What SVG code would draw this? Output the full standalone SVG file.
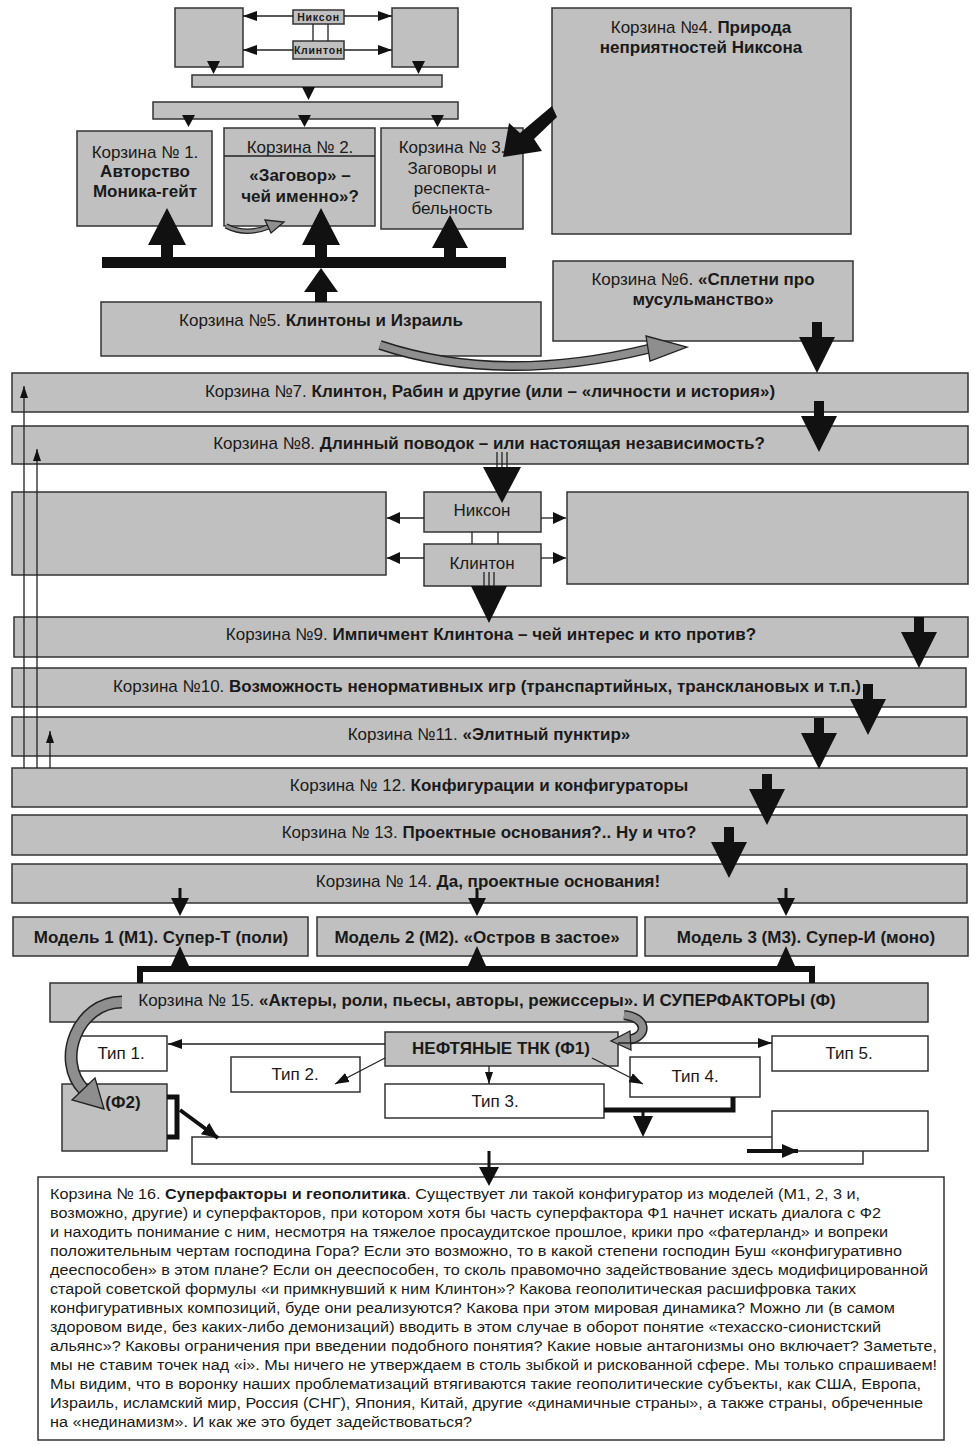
<svg xmlns="http://www.w3.org/2000/svg" width="978" height="1447" viewBox="0 0 978 1447">
<style>
.box{fill:#c0c0c0;stroke:#333;stroke-width:1.5}
.wb{fill:#fff;stroke:#333;stroke-width:1.5}
.ln{stroke:#222;stroke-width:1.3;fill:none}
.thk{stroke:#111;stroke-width:5;fill:none}
.blk{fill:#111}
text{font-family:"Liberation Sans",Arial,sans-serif;fill:#1a1a1a}
.t{font-size:17px;text-anchor:middle}
.m{font-size:17px;text-anchor:middle;font-weight:bold}
.b{font-weight:bold}
.p{font-size:15.5px}
.sm{font-size:10.5px;font-weight:bold;letter-spacing:0.8px;text-anchor:middle}
.go{stroke:#222;fill:none}
.gi{stroke:#8e8e8e;fill:none}
.gh{fill:#8e8e8e;stroke:#222;stroke-width:1.3}
</style>
<defs>
<marker id="ah" markerUnits="userSpaceOnUse" viewBox="0 0 14 10" refX="14" refY="5" markerWidth="14" markerHeight="10" orient="auto"><path d="M0 0L14 5L0 10Z" fill="#111"/></marker>
<marker id="am" markerUnits="userSpaceOnUse" viewBox="0 0 13 12" refX="13" refY="6" markerWidth="13" markerHeight="12" orient="auto"><path d="M0 0L13 6L0 12Z" fill="#111"/></marker>
<marker id="au" markerUnits="userSpaceOnUse" viewBox="0 0 12 8" refX="12" refY="4" markerWidth="12" markerHeight="8" orient="auto"><path d="M0 0L12 4L0 8Z" fill="#111"/></marker>
<marker id="as" markerUnits="userSpaceOnUse" viewBox="0 0 16 14" refX="16" refY="7" markerWidth="16" markerHeight="14" orient="auto"><path d="M0 0L16 7L0 14Z" fill="#111"/></marker>
<path id="bd" d="M-5 0H5V15H18L0 51L-18 15H-5Z"/>
<path id="sd" d="M-1.5 0H1.5V10H9L0 28L-9 10H-1.5Z"/>
<path id="su" d="M-9 0L0 -20L9 0Z"/>
</defs>

<g id="top-left-box"><rect class="box" x="175" y="8" width="68" height="59"/></g>
<g id="top-right-box"><rect class="box" x="392" y="8" width="66" height="59"/></g>
<g id="top-nixon"><rect class="box" x="293" y="10" width="51" height="14"/><text class="sm" x="318.5" y="21">Никсон</text></g>
<g id="top-clinton"><rect class="box" x="293" y="41" width="51" height="18"/><text class="sm" x="318.5" y="54">Клинтон</text></g>
<g id="top-bar1"><rect class="box" x="192" y="75" width="250" height="12"/></g>
<g id="top-bar2"><rect class="box" x="153" y="102" width="305" height="17"/></g>
<g id="basket1"><rect class="box" x="77" y="131" width="135" height="95"/>
<text class="t" x="145" y="158">Корзина № 1.</text>
<text class="t b" x="145" y="177">Авторство</text>
<text class="t b" x="145" y="197">Моника-гейт</text></g>
<g id="basket2"><rect class="box" x="224" y="128" width="151" height="98"/>
<line class="ln" x1="224" y1="156" x2="375" y2="156"/>
<text class="t" x="300" y="153">Корзина № 2.</text>
<text class="t b" x="300" y="181">«Заговор» –</text>
<text class="t b" x="300" y="202">чей именно»?</text></g>
<g id="basket3"><rect class="box" x="381" y="128" width="142" height="101"/>
<text class="t" x="452" y="153">Корзина № 3.</text>
<text class="t" x="452" y="174">Заговоры и</text>
<text class="t" x="452" y="194">респекта-</text>
<text class="t" x="452" y="214">бельность</text></g>
<g id="basket4"><rect class="box" x="552" y="8" width="299" height="226"/>
<text class="t" x="701" y="33">Корзина №4. <tspan class="b">Природа</tspan></text>
<text class="t b" x="701" y="53">неприятностей Никсона</text></g>
<g id="basket5"><rect class="box" x="101" y="302" width="440" height="54"/>
<text class="t" x="321" y="326">Корзина №5. <tspan class="b">Клинтоны и Израиль</tspan></text></g>
<g id="basket6"><rect class="box" x="553" y="261" width="300" height="80"/>
<text class="t" x="703" y="285">Корзина №6. <tspan class="b">«Сплетни про</tspan></text>
<text class="t b" x="703" y="305">мусульманство»</text></g>
<g id="basket7"><rect class="box" x="12" y="373" width="956" height="39"/>
<text class="t" x="490" y="397">Корзина №7. <tspan class="b">Клинтон, Рабин и другие (или – «личности и история»)</tspan></text></g>
<g id="basket8"><rect class="box" x="12" y="426" width="956" height="38"/>
<text class="t" x="489" y="449">Корзина №8. <tspan class="b">Длинный поводок – или настоящая независимость?</tspan></text></g>
<g id="mid-left-box"><rect class="box" x="12" y="492" width="374" height="83"/></g>
<g id="mid-right-box"><rect class="box" x="567" y="492" width="401" height="92"/></g>
<g id="mid-nixon"><rect class="box" x="424" y="492" width="117" height="40"/><text class="t" x="482" y="516">Никсон</text></g>
<g id="mid-clinton"><rect class="box" x="424" y="544" width="117" height="42"/><text class="t" x="482" y="569">Клинтон</text></g>
<g id="basket9"><rect class="box" x="14" y="617" width="954" height="40"/>
<text class="t" x="491" y="640">Корзина №9. <tspan class="b">Импичмент Клинтона – чей интерес и кто против?</tspan></text></g>
<g id="basket10"><rect class="box" x="12" y="668" width="954" height="39"/>
<text class="t" x="487" y="692">Корзина №10. <tspan class="b">Возможность ненормативных игр (транспартийных, трансклановых и т.п.)</tspan></text></g>
<g id="basket11"><rect class="box" x="12" y="717" width="955" height="39"/>
<text class="t" x="489" y="740">Корзина №11. <tspan class="b">«Элитный пунктир»</tspan></text></g>
<g id="basket12"><rect class="box" x="12" y="768" width="955" height="39"/>
<text class="t" x="489" y="791">Корзина № 12. <tspan class="b">Конфигурации и конфигураторы</tspan></text></g>
<g id="basket13"><rect class="box" x="12" y="815" width="955" height="40"/>
<text class="t" x="489" y="838">Корзина № 13. <tspan class="b">Проектные основания?.. Ну и что?</tspan></text></g>
<g id="basket14"><rect class="box" x="12" y="864" width="955" height="39"/>
<text class="t" x="488" y="887">Корзина № 14. <tspan class="b">Да, проектные основания!</tspan></text></g>
<g id="model1"><rect class="box" x="13" y="917" width="295" height="39"/><text class="m" x="161" y="943">Модель 1 (М1). Супер-Т (поли)</text></g>
<g id="model2"><rect class="box" x="317" y="917" width="320" height="39"/><text class="m" x="477" y="943">Модель 2 (М2). «Остров в застое»</text></g>
<g id="model3"><rect class="box" x="645" y="917" width="323" height="39"/><text class="m" x="806" y="943">Модель 3 (М3). Супер-И (моно)</text></g>
<g id="basket15"><rect class="box" x="50" y="983" width="878" height="39"/>
<text class="t" x="487" y="1006">Корзина № 15. <tspan class="b">«Актеры, роли, пьесы, авторы, режиссеры». И СУПЕРФАКТОРЫ (Ф)</tspan></text></g>
<g id="oil-tnk"><rect class="box" x="385" y="1032" width="233" height="34"/><text class="b" x="501" y="1054" font-size="17" text-anchor="middle">НЕФТЯНЫЕ ТНК (Ф1)</text></g>
<g id="type1"><rect class="wb" x="76" y="1036" width="91" height="35"/><text class="t" x="121" y="1059">Тип 1.</text></g>
<g id="type2"><rect class="wb" x="231" y="1057" width="129" height="35"/><text class="t" x="295" y="1080">Тип 2.</text></g>
<g id="type3"><rect class="wb" x="385" y="1084" width="219" height="34"/><text class="t" x="495" y="1107">Тип 3.</text></g>
<g id="type4"><rect class="wb" x="630" y="1057" width="130" height="40"/><text class="t" x="695" y="1082">Тип 4.</text></g>
<g id="type5"><rect class="wb" x="772" y="1036" width="156" height="35"/><text class="t" x="849" y="1059">Тип 5.</text></g>
<g id="f2"><rect class="box" x="62" y="1084" width="105" height="67"/><text class="t b" x="123" y="1108">(Ф2)</text></g>
<g id="wide-box"><rect class="wb" x="192" y="1137" width="671" height="27"/></g>
<g id="right-white-box"><rect class="wb" x="772" y="1111" width="156" height="40"/></g>
<g id="basket16"><rect class="wb" x="38" y="1177" width="906" height="263"/>
<text class="p" x="50" y="1199" textLength="810" lengthAdjust="spacingAndGlyphs">Корзина № 16. <tspan class="b">Суперфакторы и геополитика</tspan>. Существует ли такой конфигуратор из моделей (М1, 2, 3 и,</text>
<text class="p" x="50" y="1218" textLength="831" lengthAdjust="spacingAndGlyphs">возможно, другие) и суперфакторов, при котором хотя бы часть суперфактора Ф1 начнет искать диалога с Ф2</text>
<text class="p" x="50" y="1237" textLength="838" lengthAdjust="spacingAndGlyphs">и находить понимание с ним, несмотря на тяжелое просаудитское прошлое, крики про «фатерланд» и вопреки</text>
<text class="p" x="50" y="1256" textLength="852" lengthAdjust="spacingAndGlyphs">положительным чертам господина Гора? Если это возможно, то в какой степени господин Буш «конфигуративно</text>
<text class="p" x="50" y="1275" textLength="878" lengthAdjust="spacingAndGlyphs">дееспособен» в этом плане? Если он дееспособен, то сколь правомочно задействование здесь модифицированной</text>
<text class="p" x="50" y="1294" textLength="806" lengthAdjust="spacingAndGlyphs">старой советской формулы «и примкнувший к ним Клинтон»? Какова геополитическая расшифровка таких</text>
<text class="p" x="50" y="1313" textLength="845" lengthAdjust="spacingAndGlyphs">конфигуративных композиций, буде они реализуются? Какова при этом мировая динамика? Можно ли (в самом</text>
<text class="p" x="50" y="1332" textLength="831" lengthAdjust="spacingAndGlyphs">здоровом виде, без каких-либо демонизаций) вводить в этом случае в оборот понятие «техасско-сионистский</text>
<text class="p" x="50" y="1351" textLength="887" lengthAdjust="spacingAndGlyphs">альянс»? Каковы ограничения при введении подобного понятия? Какие новые антагонизмы оно включает? Заметьте,</text>
<text class="p" x="50" y="1370" textLength="887" lengthAdjust="spacingAndGlyphs">мы не ставим точек над «i». Мы ничего не утверждаем в столь зыбкой и рискованной сфере. Мы только спрашиваем!</text>
<text class="p" x="50" y="1389" textLength="871" lengthAdjust="spacingAndGlyphs">Мы видим, что в воронку наших проблематизаций втягиваются такие геополитические субъекты, как США, Европа,</text>
<text class="p" x="50" y="1408" textLength="873" lengthAdjust="spacingAndGlyphs">Израиль, исламский мир, Россия (СНГ), Япония, Китай, другие «динамичные страны», а также страны, обреченные</text>
<text class="p" x="50" y="1427" textLength="422" lengthAdjust="spacingAndGlyphs">на «нединамизм». И как же это будет задействоваться?</text></g>

<g id="connectors">
<path class="ln" d="M313 24V41M328 24V41"/>
<path class="ln" marker-end="url(#ah)" d="M293 16H243"/>
<path class="ln" marker-end="url(#ah)" d="M344 16H392"/>
<path class="ln" marker-end="url(#ah)" d="M293 50H243"/>
<path class="ln" marker-end="url(#ah)" d="M344 50H392"/>
<g class="blk">
<polygon points="207,61 220,61 213.5,74"/>
<polygon points="412,61 425,61 418.5,74"/>
<polygon points="302,87 315,87 308.5,100"/>
<polygon points="182,115 195,115 188.5,127"/>
<polygon points="298,115 311,115 304.5,127"/>
<polygon points="431,115 444,115 437.5,127"/>
<rect x="102" y="257" width="404" height="11"/>
<path d="M161 258V245H148L167 208L186 245H173V258Z"/>
<path d="M315 258V245H302L321 208L340 245H327V258Z"/>
<path d="M444 258V248H432L450 215L468 248H456V258Z"/>
<path d="M315 302V292H304L321 268L338 292H327V302Z"/>
<path d="M552 106L557 117L534 139L542 151L503 157L509 123L520 133Z"/>
</g>
<path class="go" stroke-width="5.5" d="M226 226Q246 236 268 227"/>
<path class="gi" stroke-width="3" d="M226 226Q246 236 268 227"/>
<polygon class="gh" points="265,220 284,222 271,233"/>
<path class="go" stroke-width="10" d="M380 345Q500 385 648 349"/>
<path class="gi" stroke-width="7" d="M380 345Q500 385 648 349"/>
<polygon class="gh" points="646,336 687,347 650,361"/>
<g class="blk">
<use href="#bd" x="817" y="322"/>
<use href="#bd" x="819" y="401"/>
<use href="#bd" x="919" y="617"/>
<use href="#bd" x="868" y="684"/>
<use href="#bd" x="819" y="718"/>
<use href="#bd" x="767" y="774"/>
<use href="#bd" x="729" y="827"/>
</g>
<path class="ln" marker-end="url(#au)" d="M24 768V386"/>
<path class="ln" marker-end="url(#au)" d="M37 768V449"/>
<path class="ln" marker-end="url(#au)" d="M50 768V731"/>
<path class="ln" d="M497 452V468M502 452V468M507 452V468"/>
<polygon class="blk" points="483,467 521,467 502,503"/>
<path class="ln" d="M472 532V544M498 532V544"/>
<path class="ln" marker-end="url(#am)" d="M424 518H387"/>
<path class="ln" marker-end="url(#am)" d="M541 518H566"/>
<path class="ln" marker-end="url(#am)" d="M424 558H387"/>
<path class="ln" marker-end="url(#am)" d="M541 558H566"/>
<path class="ln" d="M484 572V587M489 572V587M494 572V587"/>
<polygon class="blk" points="471,586 507,586 489,623"/>
<g class="blk">
<use href="#sd" x="180" y="888"/>
<use href="#sd" x="477" y="888"/>
<use href="#sd" x="786" y="888"/>
<use href="#su" x="180" y="966"/>
<use href="#su" x="477" y="966"/>
<use href="#su" x="786" y="966"/>
</g>
<path stroke="#111" stroke-width="6" fill="none" d="M140 983V969H812V983"/>
<path class="go" stroke-width="13" d="M122 1002C78 1002 55 1060 84 1090"/>
<path class="gi" stroke-width="10" d="M122 1002C78 1002 55 1060 84 1090"/>
<polygon class="gh" points="95,1078 104,1109 72,1100"/>
<path class="go" stroke-width="10" d="M624 1015C646 1017 650 1036 628 1040"/>
<path class="gi" stroke-width="7" d="M624 1015C646 1017 650 1036 628 1040"/>
<polygon class="gh" points="630,1031 611,1041 631,1050"/>
<path class="ln" marker-end="url(#ah)" d="M385 1044H168"/>
<path class="ln" marker-end="url(#ah)" d="M618 1043H772"/>
<path class="ln" marker-end="url(#ah)" d="M385 1058L335 1084"/>
<path class="ln" marker-end="url(#ah)" d="M592 1058L643 1084"/>
<path class="ln" marker-end="url(#au)" d="M489 1066V1084"/>
<path class="thk" d="M733 1097V1110H604"/>
<path class="blk" d="M641.5 1110H644.5V1116H653L643 1137L633 1116H641.5Z"/>
<path class="thk" d="M167 1097H177V1137H167"/>
<path stroke="#111" stroke-width="4" fill="none" marker-end="url(#as)" d="M180 1110L218 1138"/>
<path stroke="#111" stroke-width="4" fill="none" marker-end="url(#as)" d="M747 1151H798"/>
<path class="blk" d="M487.5 1151H490.5V1167H499L489 1186L479 1167H487.5Z"/>
</g>
</svg>
